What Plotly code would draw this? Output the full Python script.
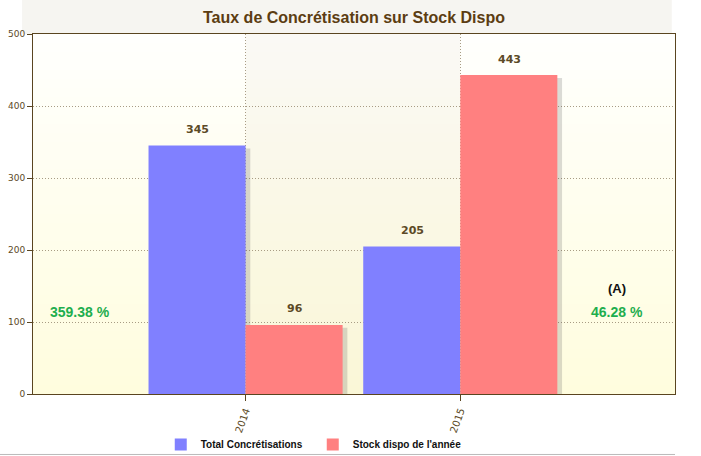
import plotly.graph_objects as go

categories = ["2014", "2015"]
total_concretisations = [345, 205]
stock_dispo = [96, 443]
taux_labels = ["359.38 %", "46.28 %"]
series_names = ["Total Concrétisations", "Stock dispo de l'année"]
y_ticks = [0, 100, 200, 300, 400, 500]

BLUE = "#8080FF"
RED = "#FF8080"
BROWN = "#5A4520"
BAR_W = 0.452

fig = go.Figure()

# soft shadows (derived from the data)
for vals, off in [(total_concretisations, -BAR_W), (stock_dispo, 0.0)]:
    fig.add_trace(go.Bar(
        x=categories, y=[v - 4 for v in vals], base=0,
        offset=off + 0.022, width=BAR_W,
        marker=dict(color="rgba(90,90,90,0.22)", line=dict(width=0)),
        showlegend=False, hoverinfo="skip"))

for vals, off, col, name in [(total_concretisations, -BAR_W, BLUE, series_names[0]),
                             (stock_dispo, 0.0, RED, series_names[1])]:
    fig.add_trace(go.Bar(
        x=categories, y=vals, name=name, offset=off, width=BAR_W,
        marker=dict(color=col, line=dict(width=0))))

shapes = []
n = 40
top = (255, 255, 253)
bot = (255, 253, 222)
for i in range(n):
    t = i / (n - 1)
    r = round(top[0] + (bot[0] - top[0]) * t)
    g = round(top[1] + (bot[1] - top[1]) * t)
    b = round(top[2] + (bot[2] - top[2]) * t)
    shapes.append(dict(type="rect", xref="paper", yref="paper",
                       x0=0, x1=1, y0=1 - (i + 1) / n, y1=1 - i / n,
                       fillcolor=f"rgb({r},{g},{b})", line=dict(width=0), layer="below"))
shapes.append(dict(type="rect", xref="x", yref="paper", x0=0, x1=1, y0=0, y1=1,
                   fillcolor="rgba(120,100,60,0.04)", line=dict(width=0), layer="below"))
shapes.append(dict(type="rect", xref="paper", yref="paper", x0=-0.017, x1=0.995,
                   y0=1.0, y1=1.095, fillcolor="#F6F5F1", line=dict(width=0), layer="below"))
shapes.append(dict(type="line", xref="paper", yref="paper", x0=-0.052, x1=1.0,
                   y0=-0.168, y1=-0.168, line=dict(color="#BBBBBB", width=1)))

annotations = [
    dict(xref="paper", yref="y", x=0.073, y=114, text=taux_labels[0], showarrow=False,
         xanchor="center", yanchor="middle",
         font=dict(family="Liberation Sans", size=14, color="#1EAE4E", weight="bold")),
    dict(xref="paper", yref="y", x=0.910, y=114, text=taux_labels[1], showarrow=False,
         xanchor="center", yanchor="middle",
         font=dict(family="Liberation Sans", size=14, color="#1EAE4E", weight="bold")),
    dict(xref="paper", yref="y", x=0.910, y=147, text="(A)", showarrow=False,
         xanchor="center", yanchor="middle",
         font=dict(family="Liberation Sans", size=13, color="#111111", weight="bold")),
]
# value labels above bars (x given as category index)
for vals, shift in [(total_concretisations, -48), (stock_dispo, 49)]:
    for idx, v in enumerate(vals):
        annotations.append(dict(xref="x", yref="y", x=idx, y=v, text=str(v), showarrow=False,
                                xanchor="center", yanchor="middle", xshift=shift, yshift=16,
                                font=dict(family="DejaVu Sans", size=11, color="#5C4A26",
                                          weight="bold")))

fig.update_layout(
    width=701, height=456,
    margin=dict(l=33, r=26, t=34, b=62, autoexpand=False),
    paper_bgcolor="white", plot_bgcolor="white",
    barmode="overlay",
    title=dict(text="<b>Taux de Concrétisation sur Stock Dispo</b>", x=0.5, xref="paper",
               xanchor="center", y=0.961, yanchor="middle",
               font=dict(family="Liberation Sans", size=16, color="#5C3D12")),
    xaxis=dict(type="category", range=[-0.99, 2.0], showgrid=True,
               gridcolor="#A89C84", griddash="1px,2px", gridwidth=1,
               showline=True, linecolor=BROWN, linewidth=1, mirror=True,
               ticks="outside", ticklen=6, tickcolor=BROWN, tickangle=-70,
               automargin=False,
               tickfont=dict(family="DejaVu Sans", size=10, color="#5C4A26")),
    yaxis=dict(range=[0, 500], tickvals=y_ticks, showgrid=True,
               gridcolor="#A89C84", griddash="1px,2px", gridwidth=1,
               showline=True, linecolor=BROWN, linewidth=1, mirror=True,
               ticks="outside", ticklen=5, tickcolor=BROWN, zeroline=False,
               automargin=False,
               tickfont=dict(family="DejaVu Sans", size=9, color="#5C4A26")),
    legend=dict(orientation="h", x=0.199, xanchor="left", y=-0.14, yanchor="middle",
                font=dict(family="Liberation Sans", size=10, color="#111111", weight="bold"),
                entrywidth=107, bgcolor="rgba(0,0,0,0)"),
    shapes=shapes, annotations=annotations,
)

fig.write_html("out.html", config={"displayModeBar": False},
               post_script="document.body.style.margin='0px';")
